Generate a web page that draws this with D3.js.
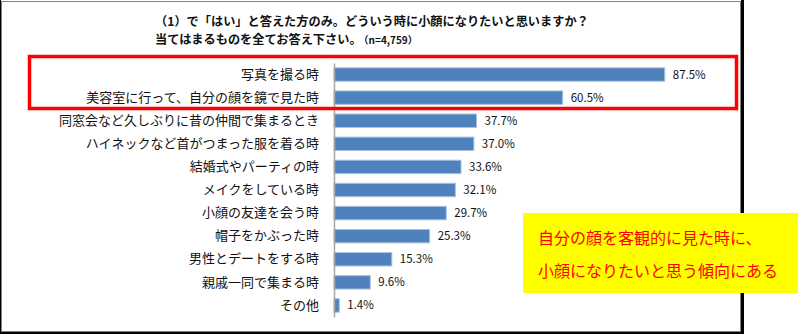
<!DOCTYPE html>
<html><head><meta charset="utf-8">
<script src="https://cdn.jsdelivr.net/npm/d3@7"></script>
<style>body{margin:0;background:#fff}svg{display:block}</style>
</head><body>
<svg id="c" width="798" height="334"></svg>
<script>
const categories = ["写真を撮る時","美容室に行って、自分の顔を鏡で見た時","同窓会など久しぶりに昔の仲間で集まるとき","ハイネックなど首がつまった服を着る時","結婚式やパーティの時","メイクをしている時","小顔の友達を会う時","帽子をかぶった時","男性とデートをする時","親戚一同で集まる時","その他"];
const values = [87.5,60.5,37.7,37.0,33.6,32.1,29.7,25.3,15.3,9.6,1.4];
const titleLine1 = "（1）で「はい」と答えた方のみ。どういう時に小顔になりたいと思いますか？";
const titleLine2 = "当てはまるものを全てお答え下さい。";
const sampleNote = "（n=4,759）";
const noteLines = ["自分の顔を客観的に見た時に、","小顔になりたいと思う傾向にある"];

const svg = d3.select("#c");
const font = "'MS PGothic','Noto Sans CJK JP',sans-serif";

// frame
svg.append("rect").attr("x",0).attr("y",0).attr("width",1).attr("height",334).attr("fill","#000");
svg.append("rect").attr("x",741).attr("y",0).attr("width",3).attr("height",334).attr("fill","#000");
svg.append("rect").attr("x",0).attr("y",332).attr("width",744).attr("height",2).attr("fill","#000");
svg.append("rect").attr("x",1.5).attr("y",1.5).attr("width",739).attr("height",330).attr("fill","#fff").attr("stroke","#808080").attr("stroke-width",1);

// title
svg.append("text").attr("x",155).attr("y",26).attr("font-family",font).attr("font-size",12.2).attr("font-weight","bold").attr("fill","#111").text(titleLine1);
const t2 = svg.append("text").attr("x",155).attr("y",44).attr("font-family",font).attr("font-size",12.2).attr("font-weight","bold").attr("fill","#111");
t2.append("tspan").text(titleLine2);
t2.append("tspan").attr("font-size",10).attr("dx",2).text(sampleNote);

const x = d3.scaleLinear().domain([0,100]).range([334,712]);
const y = d3.scaleBand().domain(categories).range([63,317]).paddingInner(0.42).paddingOuter(0.21);

// bars
svg.append("g").selectAll("rect").data(values).join("rect")
  .attr("x",x(0)).attr("y",(d,i)=>y(categories[i]))
  .attr("width",d=>x(d)-x(0)).attr("height",y.bandwidth())
  .attr("fill","#4f81bd").attr("stroke","#a9c1df").attr("stroke-width",1);

// axis
const ax = svg.append("g").attr("transform",`translate(${x(0)},0)`).call(d3.axisLeft(y).tickSize(0).tickPadding(15));
ax.select(".domain").attr("stroke","#a6a6a6").attr("stroke-width",1.5);
ax.selectAll("text").attr("font-family",font).attr("font-size",13).attr("fill","#111");

// value labels
svg.append("g").selectAll("text").data(values).join("text")
  .attr("x",d=>x(d)+8).attr("y",(d,i)=>y(categories[i])+y.bandwidth()/2)
  .attr("dy","0.35em").attr("font-family",font).attr("font-size",11.5).attr("fill","#111")
  .text(d=>d.toFixed(1)+"%");

// red highlight box
svg.append("rect").attr("x",29.5).attr("y",56.5).attr("width",707).attr("height",52).attr("fill","none").attr("stroke","#ff0000").attr("stroke-width",3.5);

// yellow note
svg.append("rect").attr("x",523).attr("y",213).attr("width",275).attr("height",80).attr("fill","#ffff00");
svg.append("g").selectAll("text").data(noteLines).join("text")
  .attr("x",538).attr("y",(d,i)=>244+i*33).attr("font-family",font).attr("font-size",16).attr("fill","#ff0000").text(d=>d);
</script>
</body></html>
